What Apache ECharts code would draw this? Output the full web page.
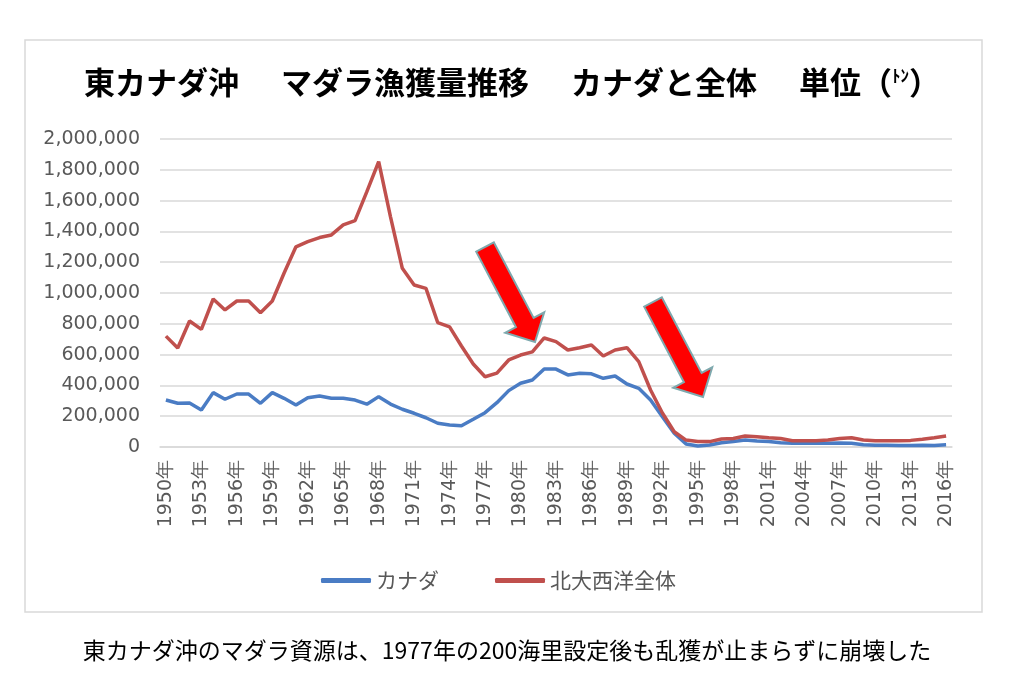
<!DOCTYPE html>
<html>
<head>
<meta charset="utf-8">
<script src="https://cdn.jsdelivr.net/npm/echarts@6/dist/echarts.min.js"></script>
<style>
  html, body { margin: 0; padding: 0; background: #fff; }
  #main { width: 1024px; height: 691px; }
</style>
</head>
<body>
<div id="main"></div>
<script>
// 年（カテゴリ）
var years = [
  '1950年','1951年','1952年','1953年','1954年','1955年','1956年','1957年','1958年','1959年',
  '1960年','1961年','1962年','1963年','1964年','1965年','1966年','1967年','1968年','1969年',
  '1970年','1971年','1972年','1973年','1974年','1975年','1976年','1977年','1978年','1979年',
  '1980年','1981年','1982年','1983年','1984年','1985年','1986年','1987年','1988年','1989年',
  '1990年','1991年','1992年','1993年','1994年','1995年','1996年','1997年','1998年','1999年',
  '2000年','2001年','2002年','2003年','2004年','2005年','2006年','2007年','2008年','2009年',
  '2010年','2011年','2012年','2013年','2014年','2015年','2016年'
];

// カナダ 漁獲量（トン）
var canada = [
  305000, 284000, 285000, 240000, 353000, 310000, 344000, 344000, 284000, 353000,
  316000, 273000, 320000, 331000, 316000, 316000, 305000, 278000, 327000, 279000,
  245000, 219000, 190000, 154000, 143000, 138000, 180000, 223000, 288000, 366000,
  414000, 435000, 506000, 506000, 468000, 479000, 475000, 446000, 461000, 409000,
  381000, 305000, 197000, 89000, 20000, 6000, 13000, 28000, 35000, 45000,
  39000, 35000, 28000, 24000, 24000, 24000, 24000, 26000, 24000, 15000,
  12000, 11000, 10000, 10000, 12000, 10000, 14000
];

// 北大西洋全体 漁獲量（トン）
var northAtlantic = [
  720000, 643000, 818000, 764000, 961000, 890000, 948000, 948000, 872000, 948000,
  1130000, 1300000, 1333000, 1360000, 1377000, 1442000, 1470000, 1658000, 1853000, 1495000,
  1160000, 1052000, 1030000, 807000, 780000, 656000, 539000, 456000, 480000, 565000,
  597000, 618000, 708000, 684000, 630000, 645000, 662000, 591000, 630000, 645000,
  554000, 370000, 221000, 99000, 45000, 35000, 35000, 52000, 55000, 71000,
  66000, 60000, 55000, 41000, 41000, 41000, 45000, 55000, 60000, 45000,
  41000, 41000, 41000, 43000, 50000, 60000, 72000
];

var seriesNames = ['カナダ', '北大西洋全体'];

// 矢印（注釈）の形を作る
function arrowPoints(tail, tip, shaftW, headW, headL) {
  var dx = tip[0] - tail[0], dy = tip[1] - tail[1];
  var len = Math.sqrt(dx * dx + dy * dy);
  var ux = dx / len, uy = dy / len;
  var nx = -uy, ny = ux;
  var bx = tip[0] - ux * headL, by = tip[1] - uy * headL;
  return [
    [tail[0] + nx * shaftW / 2, tail[1] + ny * shaftW / 2],
    [bx + nx * shaftW / 2, by + ny * shaftW / 2],
    [bx + nx * headW / 2, by + ny * headW / 2],
    tip,
    [bx - nx * headW / 2, by - ny * headW / 2],
    [bx - nx * shaftW / 2, by - ny * shaftW / 2],
    [tail[0] - nx * shaftW / 2, tail[1] - ny * shaftW / 2]
  ];
}

function arrow(tail, tip) {
  return {
    type: 'polygon',
    z: 100,
    shape: { points: arrowPoints(tail, tip, 20, 44, 22) },
    style: { fill: '#ff0000', stroke: '#7ea9ae', lineWidth: 2 }
  };
}

var myChart = echarts.init(document.getElementById('main'));

var option = {
  backgroundColor: '#ffffff',
  animation: false,
  textStyle: { fontFamily: 'Noto Sans CJK JP' },
  title: {
    left: 'center',
    top: 62,
    text: '{a|東カナダ沖}{g| }{a|マダラ漁獲量推移}{g| }{a|カナダと全体}{g| }{a|単位（}{b|ﾄﾝ}{a|）}',
    textStyle: {
      rich: {
        a: { fontSize: 31, fontWeight: 'bold', color: '#000', fontFamily: 'Noto Sans CJK JP' },
        b: { fontSize: 17, fontWeight: 'bold', color: '#000', fontFamily: 'Noto Sans CJK JP', padding: [0, 0, 13, 0] },
        g: { fontSize: 31, width: 42 }
      }
    }
  },
  legend: {
    left: 316,
    top: 565,
    itemWidth: 50,
    itemHeight: 5,
    itemGap: 56,
    icon: 'roundRect',
    data: seriesNames,
    textStyle: { fontSize: 21, color: '#595959', fontFamily: 'Noto Sans CJK JP' }
  },
  grid: {
    left: 160,
    right: 72,
    top: 139,
    bottom: 244
  },
  xAxis: {
    type: 'category',
    data: years,
    boundaryGap: true,
    axisTick: { show: false },
    axisLine: { lineStyle: { color: '#d9d9d9', width: 1.5 } },
    axisLabel: {
      rotate: 90,
      interval: 2,
      margin: 13,
      fontSize: 19,
      color: '#595959',
      fontFamily: 'DejaVu Sans'
    }
  },
  yAxis: {
    type: 'value',
    min: 0,
    max: 2000000,
    interval: 200000,
    axisLine: { show: false },
    axisTick: { show: false },
    splitLine: { lineStyle: { color: '#d9d9d9', width: 1.5 } },
    axisLabel: {
      margin: 20,
      fontSize: 19,
      color: '#595959',
      fontFamily: 'DejaVu Sans',
      formatter: function(v) {
        return v.toLocaleString('en-US');
      }
    }
  },
  series: [
    {
      name: seriesNames[0],
      type: 'line',
      data: canada,
      symbol: 'none',
      lineStyle: { color: '#4a7cc4', width: 3.5 },
      itemStyle: { color: '#4a7cc4' }
    },
    {
      name: seriesNames[1],
      type: 'line',
      data: northAtlantic,
      symbol: 'none',
      lineStyle: { color: '#c0504d', width: 3.5 },
      itemStyle: { color: '#c0504d' }
    }
  ],
  graphic: [
    {
      type: 'rect',
      z: -10,
      shape: { x: 25, y: 40, width: 957, height: 572 },
      style: { fill: 'none', stroke: '#d9d9d9', lineWidth: 1.5 }
    },
    arrow([485, 247], [535, 342]),
    arrow([653, 302], [703, 397]),
    {
      type: 'text',
      x: 507,
      y: 650,
      style: {
        text: '東カナダ沖のマダラ資源は、1977年の200海里設定後も乱獲が止まらずに崩壊した',
        fontSize: 23,
        fontFamily: 'Noto Sans CJK JP',
        fill: '#000',
        align: 'center',
        verticalAlign: 'middle'
      }
    }
  ]
};

myChart.setOption(option);
</script>
</body>
</html>
